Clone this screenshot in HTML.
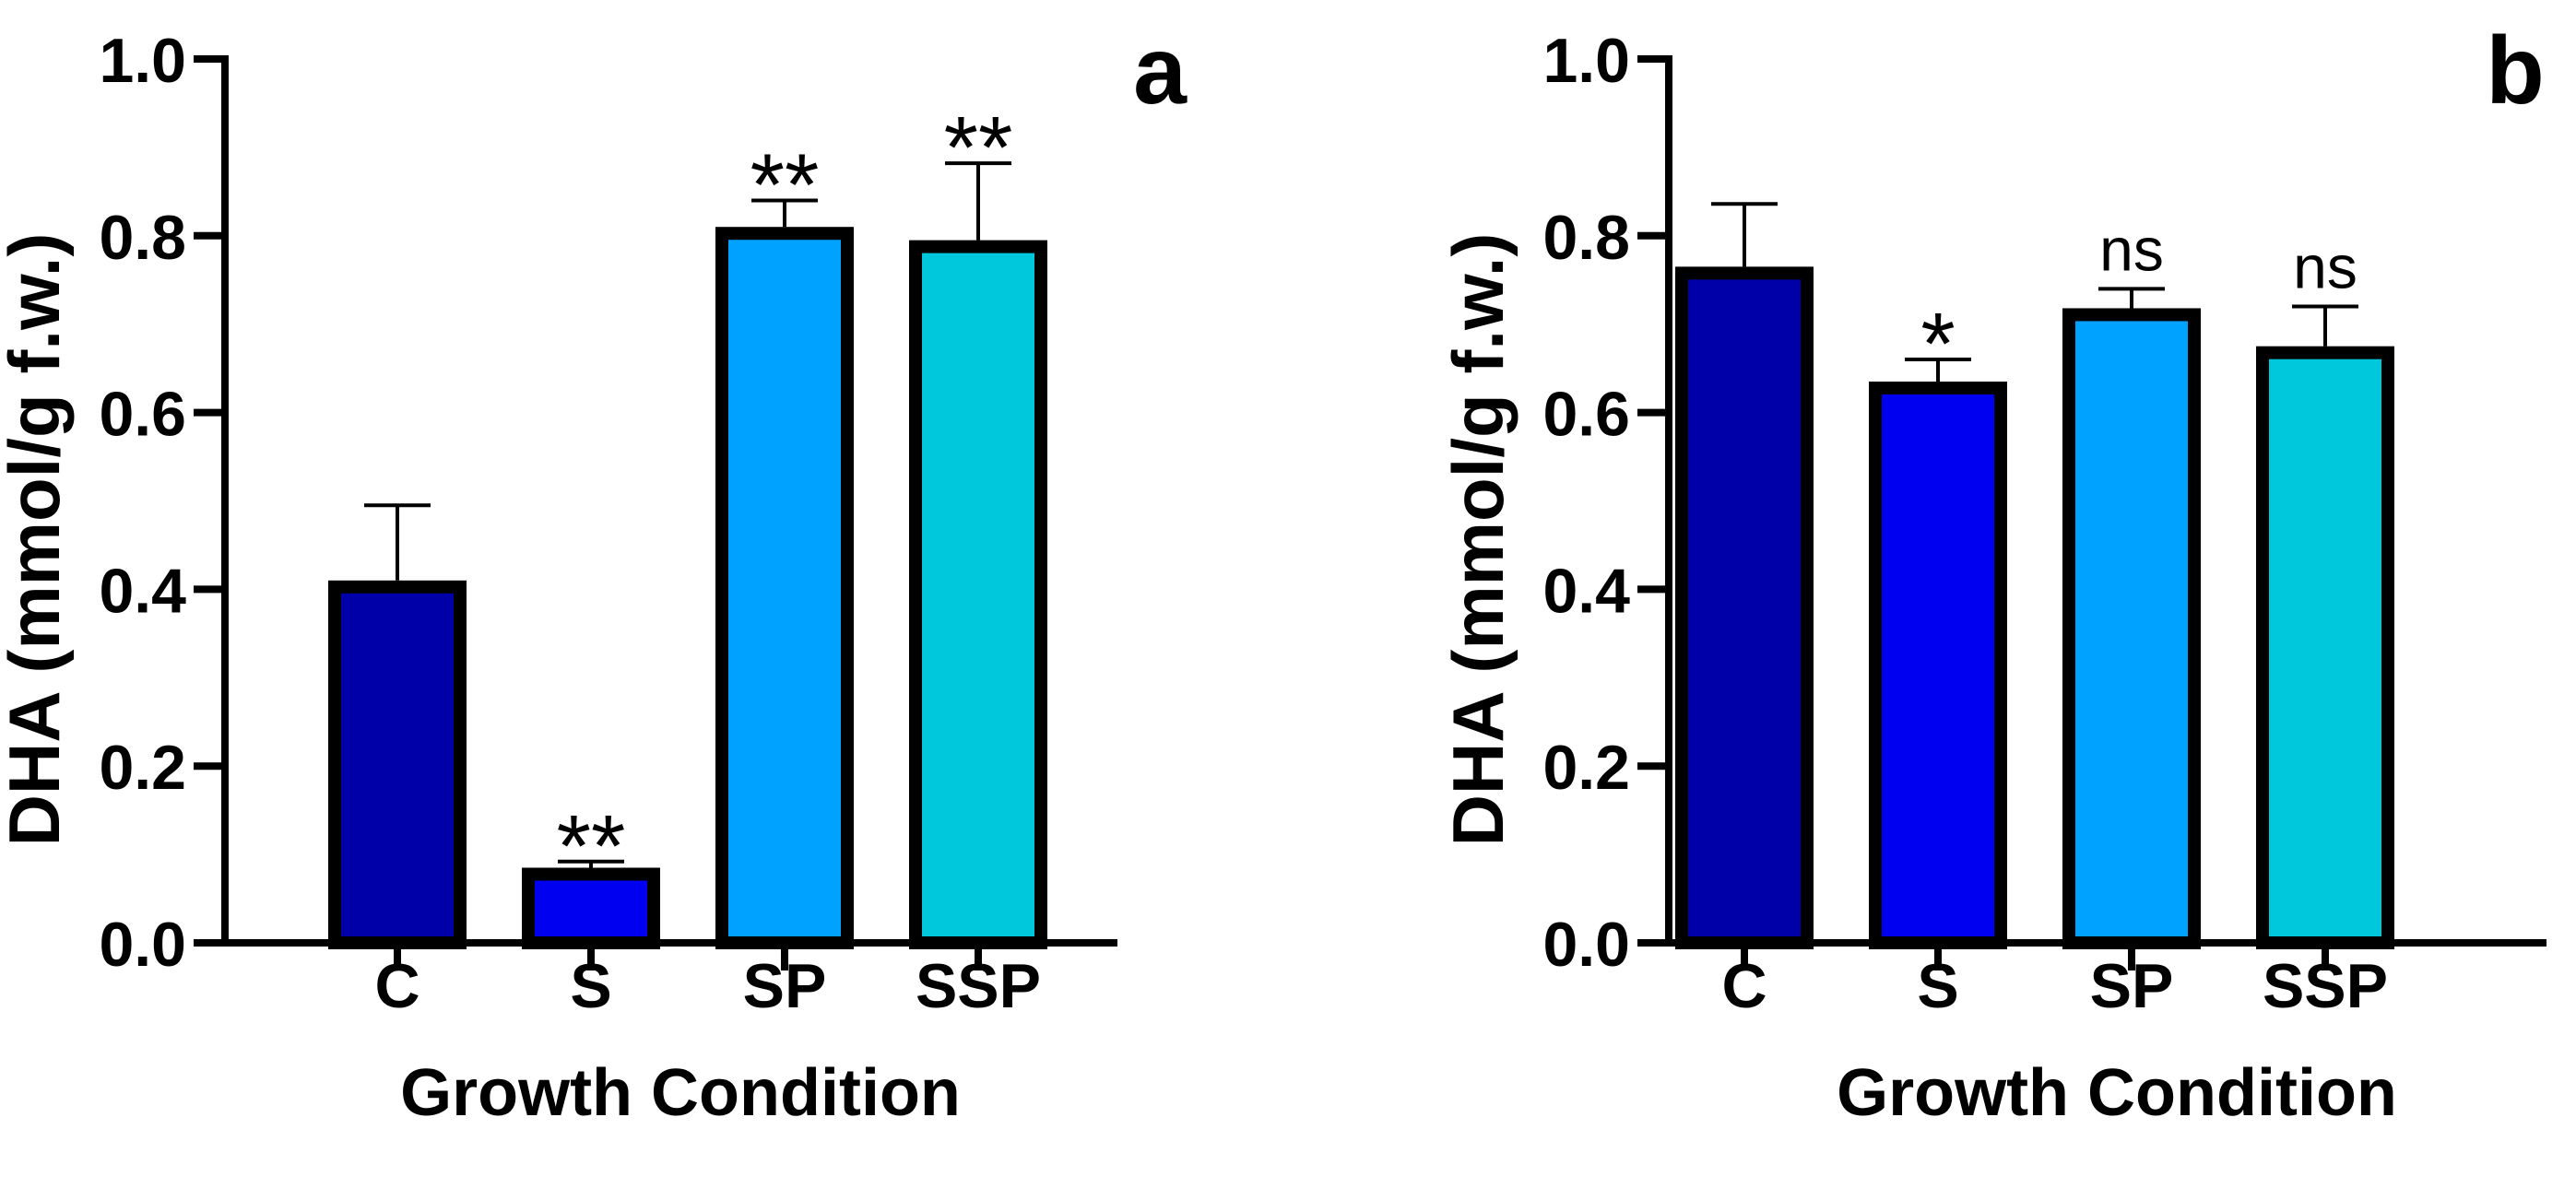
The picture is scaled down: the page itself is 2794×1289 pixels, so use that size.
<!DOCTYPE html>
<html><head><meta charset="utf-8">
<style>
html,body{margin:0;padding:0;background:#fff;}
svg{display:block;font-family:"Liberation Sans",Arial,sans-serif;font-weight:bold;}
</style></head>
<body>
<svg id="chart" width="2794" height="1289" viewBox="0 0 2794 1289" xmlns="http://www.w3.org/2000/svg"></svg>
<script>
const categories = ["C","S","SP","SSP"];
const colors = ["#0000a8","#0000f0","#00a2ff","#00c8dc"];
const valuesA = [0.41, 0.085, 0.81, 0.795];
const errorsA = [0.495, 0.092, 0.84, 0.882];
const sigA = ["", "**", "**", "**"];
const valuesB = [0.765, 0.635, 0.718, 0.675];
const errorsB = [0.836, 0.66, 0.74, 0.72];
const sigB = ["", "*", "ns", "ns"];
const yTicks = [0, 0.2, 0.4, 0.6, 0.8, 1.0];
const yTickLabels = ["0.0","0.2","0.4","0.6","0.8","1.0"];

const NS = "http://www.w3.org/2000/svg";
const svg = document.getElementById("chart");
function mk(tag, attrs, parent){
  const e = document.createElementNS(NS, tag);
  for (const k in attrs) e.setAttribute(k, attrs[k]);
  (parent||svg).appendChild(e);
  return e;
}
const Y0 = 1023, Y1 = 64;
function yScale(v){ return Y0 - (Y0 - Y1) * v; }

function panel(id, axisX, xEnd, firstBarX, pitch, values, errors, sig, letter, letterX){
  const g = mk("g", {});
  
  
  const barW = 150;
  values.forEach((v, i) => {
    const x = firstBarX + i * pitch;
    const cx = x + barW / 2;
    const eb = mk("line", {x1: cx, x2: cx, y1: yScale(v), y2: yScale(errors[i]), stroke: "#000", "stroke-width": 4}, g);
    
    
    const cap = mk("line", {x1: cx - 36, x2: cx + 36, y1: yScale(errors[i]), y2: yScale(errors[i]), stroke: "#000", "stroke-width": 4}, g);
    
    
    const r = mk("rect", {x: x + 7, y: yScale(v) + 7, width: barW - 14, height: Y0 - yScale(v) - 7, fill: colors[i], stroke: "#000", "stroke-width": 14}, g);
    
    
    const t = mk("text", {x: cx, y: 1093, "text-anchor": "middle", "font-size": 68}, g);
    t.textContent = categories[i];
    
    
    if (sig[i]) {
      const isStar = sig[i].indexOf("*") >= 0;
      const s = mk("text", {x: cx, y: yScale(errors[i]) - (isStar ? -16 : 20), "text-anchor": "middle", "font-size": isStar ? 96 : 66, "font-weight": "normal"}, g);
      s.textContent = sig[i];
      
      
    }
  });
  const ya = mk("line", {x1: axisX, x2: axisX, y1: Y1 - 4, y2: Y0 + 4, stroke: "#000", "stroke-width": 8}, g);
  
  
  const xa = mk("line", {x1: axisX - 4, x2: xEnd, y1: Y0, y2: Y0, stroke: "#000", "stroke-width": 8}, g);
  
  
  yTicks.forEach((v, i) => {
    const tk = mk("line", {x1: axisX - 34, x2: axisX, y1: yScale(v), y2: yScale(v), stroke: "#000", "stroke-width": 8}, g);
    
    
    const tl = mk("text", {x: axisX - 42, y: yScale(v) + 25, "text-anchor": "end", "font-size": 68}, g);
    tl.textContent = yTickLabels[i];
    
    
  });
  categories.forEach((c, i) => {
    const cx = firstBarX + i * pitch + barW / 2;
    const tk = mk("line", {x1: cx, x2: cx, y1: Y0, y2: Y0 + 30, stroke: "#000", "stroke-width": 8}, g);
    
    
  });
  const xt = mk("text", {x: (axisX + xEnd) / 2 + 10, y: 1210, "text-anchor": "middle", "font-size": 72}, g);
  xt.textContent = "Growth Condition";
  
  
  const yt = mk("text", {x: 0, y: 0, "text-anchor": "middle", "font-size": 78, transform: "translate(" + (axisX - 180) + "," + ((Y0 + Y1) / 2 + 42) + ") rotate(-90)"}, g);
  yt.textContent = "DHA (mmol/g f.w.)";
  
  
  const pl = mk("text", {x: letterX, y: 112, "text-anchor": "middle", "font-size": 104}, g);
  pl.textContent = letter;
  
  
}
panel("a", 244, 1212, 356, 210, valuesA, errorsA, sigA, "a", 1258);
panel("b", 1810, 2762, 1817, 210, valuesB, errorsB, sigB, "b", 2728);
</script>
</body></html>
